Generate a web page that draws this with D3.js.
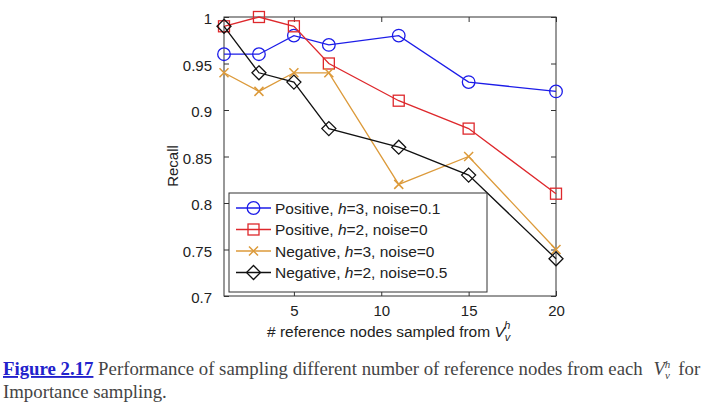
<!DOCTYPE html>
<html><head><meta charset="utf-8">
<script src="https://cdn.jsdelivr.net/npm/d3@7/dist/d3.min.js"></script>
<style>
body{margin:0;background:#fff;}
svg{display:block;}
</style></head>
<body>
<svg id="c" width="703" height="416"></svg>
<script>
const xValues = [1, 3, 5, 7, 11, 15, 20];
const posH3 = [0.96, 0.96, 0.98, 0.97, 0.98, 0.93, 0.92];
const posH2 = [0.99, 1.00, 0.99, 0.95, 0.91, 0.88, 0.81];
const negH3 = [0.94, 0.92, 0.94, 0.94, 0.82, 0.85, 0.75];
const negH2 = [0.99, 0.94, 0.93, 0.88, 0.86, 0.83, 0.74];
const seriesNames = ["Positive", "Positive", "Negative", "Negative"];
const seriesH = ["3", "2", "3", "2"];
const seriesNoise = ["0.1", "0", "0", "0.5"];
const xTicks = [5, 10, 15, 20];
const yTicks = [0.7, 0.75, 0.8, 0.85, 0.9, 0.95, 1];

const colors = ["#1c1ce8", "#de282c", "#dc9a3a", "#111111"];
const markers = ["circle", "square", "x", "diamond"];
const data = [posH3, posH2, negH3, negH2];

const svg = d3.select("#c");
const L = 224, R = 556, T = 17, B = 296;
const x = d3.scaleLinear().domain([1, 20]).range([L, R]);
const y = d3.scaleLinear().domain([0.7, 1]).range([B, T]);
const font = "'Liberation Sans', Arial, sans-serif";

// frame
svg.append("rect").attr("x", L).attr("y", T).attr("width", R - L).attr("height", B - T)
  .attr("fill", "none").attr("stroke", "#333").attr("stroke-width", 1);

const fmt = d => d === 1 ? "1" : String(d);
const ax = svg.append("g").attr("transform", `translate(0,${B})`)
  .call(d3.axisBottom(x).tickValues(xTicks).tickSizeInner(-5).tickSizeOuter(0).tickPadding(9));
const axT = svg.append("g").attr("transform", `translate(0,${T})`)
  .call(d3.axisTop(x).tickValues(xTicks).tickSizeInner(-5).tickSizeOuter(0).tickFormat(""));
const ay = svg.append("g").attr("transform", `translate(${L},0)`)
  .call(d3.axisLeft(y).tickValues(yTicks).tickSizeInner(-5).tickSizeOuter(0).tickPadding(12).tickFormat(fmt));
const ayR = svg.append("g").attr("transform", `translate(${R},0)`)
  .call(d3.axisRight(y).tickValues(yTicks).tickSizeInner(-5).tickSizeOuter(0).tickFormat(""));
[ax, axT, ay, ayR].forEach(g => {
  g.select(".domain").remove();
  g.selectAll("line").attr("stroke", "#333");
  g.selectAll("text").attr("font-family", font).attr("font-size", 15).attr("fill", "#222");
});
ay.selectAll("text").attr("dy", "0.45em");

function drawMarker(g, type, cx, cy, color) {
  if (type === "circle") g.append("circle").attr("cx", cx).attr("cy", cy).attr("r", 6.3)
    .attr("fill", "none").attr("stroke", color).attr("stroke-width", 1.3);
  else if (type === "square") g.append("rect").attr("x", cx - 5.5).attr("y", cy - 5.5).attr("width", 11).attr("height", 11)
    .attr("fill", "none").attr("stroke", color).attr("stroke-width", 1.3);
  else if (type === "diamond") g.append("path").attr("d", `M${cx},${cy-7}L${cx+7},${cy}L${cx},${cy+7}L${cx-7},${cy}Z`)
    .attr("fill", "none").attr("stroke", color).attr("stroke-width", 1.3);
  else g.append("path").attr("d", `M${cx-4.5},${cy-4.5}L${cx+4.5},${cy+4.5}M${cx-4.5},${cy+4.5}L${cx+4.5},${cy-4.5}`)
    .attr("stroke", color).attr("stroke-width", 1.5);
}

const line = d3.line().x((d, i) => x(xValues[i])).y(d => y(d));
data.forEach((s, k) => {
  const g = svg.append("g");
  g.append("path").attr("d", line(s)).attr("fill", "none").attr("stroke", colors[k]).attr("stroke-width", 1.3);
  s.forEach((v, i) => drawMarker(g, markers[k], x(xValues[i]), y(v), colors[k]));
});

// legend
const lg = svg.append("g");
lg.append("rect").attr("x", 229).attr("y", 193).attr("width", 258).attr("height", 99)
  .attr("fill", "#fff").attr("stroke", "#333").attr("stroke-width", 1);
seriesNames.forEach((n, k) => {
  const yy = 208 + k * 21.5;
  lg.append("line").attr("x1", 236).attr("x2", 271).attr("y1", yy).attr("y2", yy)
    .attr("stroke", colors[k]).attr("stroke-width", 1.3);
  drawMarker(lg, markers[k], 253.5, yy, colors[k]);
  const t = lg.append("text").attr("x", 275).attr("y", yy + 5.5).attr("font-family", font)
    .attr("font-size", 15.5).attr("fill", "#222");
  t.append("tspan").text(n + ", ");
  t.append("tspan").attr("font-style", "italic").text("h");
  t.append("tspan").text("=" + seriesH[k] + ", noise=" + seriesNoise[k]);
});

// axis labels
svg.append("text").attr("transform", "translate(178,166) rotate(-90)").attr("text-anchor", "middle")
  .attr("font-family", font).attr("font-size", 15).attr("fill", "#222").text("Recall");
const xl = svg.append("text").attr("x", 267).attr("y", 337).attr("font-family", font)
  .attr("font-size", 15.5).attr("fill", "#222");
xl.append("tspan").text("# reference nodes sampled from ");
xl.append("tspan").attr("font-style", "italic").text("V");
xl.append("tspan").attr("font-style", "italic").attr("font-size", 11).attr("dy", 4).text("v");
xl.append("tspan").attr("font-style", "italic").attr("font-size", 11).attr("dx", -6).attr("dy", -12).text("h");

// caption
const serif = "'Liberation Serif', 'Times New Roman', serif";
const c1 = svg.append("text").attr("x", 3).attr("y", 375).attr("font-family", serif).attr("font-size", 18.8).attr("fill", "#444");
c1.append("tspan").attr("fill", "#2222cc").attr("font-weight", "bold").attr("text-decoration", "underline").text("Figure 2.17");
c1.append("tspan").text(" Performance of sampling different number of reference nodes from each ");
c1.append("tspan").attr("font-style", "italic").attr("dx", 6).text("V");
c1.append("tspan").attr("font-style", "italic").attr("font-size", 11).attr("dy", 4).text("v");
c1.append("tspan").attr("font-style", "italic").attr("font-size", 11).attr("dx", -5).attr("dy", -11).text("h");
c1.append("tspan").attr("dy", 7).attr("dx", 8).text("for");
svg.append("text").attr("x", 3).attr("y", 398).attr("font-family", serif).attr("font-size", 18.8).attr("fill", "#444")
  .text("Importance sampling.");
</script>
</body></html>
